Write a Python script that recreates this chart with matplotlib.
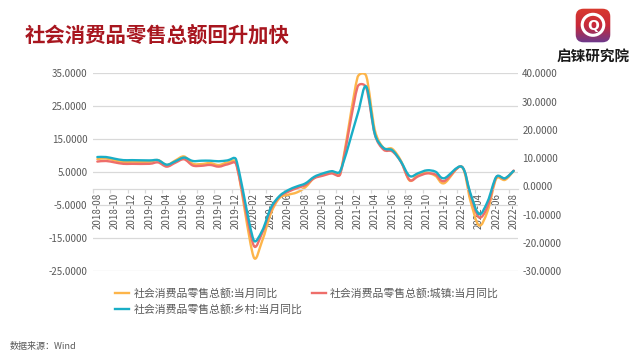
import numpy as np
import pandas as pd
import matplotlib
matplotlib.use('Agg')
import matplotlib.pyplot as plt
from matplotlib.path import Path
from matplotlib.patches import PathPatch, FancyBboxPatch, Circle
from matplotlib.lines import Line2D
from matplotlib.ticker import FormatStrFormatter
from matplotlib.colors import LinearSegmentedColormap

plt.rcParams['font.family'] = ['Noto Sans CJK SC', 'DejaVu Sans']

nan = np.nan
months = [p.strftime('%Y-%m') for p in pd.period_range('2018-08', '2022-08', freq='M')]

# 社会消费品零售总额:当月同比 (left axis)
total = [9.0, 9.2, 8.6, 8.1, 8.2,
         nan, 8.2, 8.7, 7.2, 8.6, 9.8, 7.6, 7.5, 7.8, 7.2, 8.0, 8.0,
         nan, -20.5, -15.8, -7.5, -2.8, -1.8, -1.1, 0.5, 3.3, 4.3, 5.0, 4.6,
         nan, 33.8, 34.2, 17.7, 12.4, 12.1, 8.5, 2.5, 4.4, 4.9, 3.9, 1.7,
         nan, 6.7, -3.5, -11.1, -6.7, 3.1, 2.7, 5.4]
# 城镇 (right axis)
urban = [8.8, 9.0, 8.5, 8.0, 8.0,
         nan, 8.0, 8.5, 7.0, 8.4, 9.6, 7.4, 7.3, 7.6, 7.0, 7.8, 7.9,
         nan, -20.7, -16.5, -8.2, -3.6, -1.9, -0.6, 0.5, 2.9, 3.8, 4.6, 4.3,
         nan, 35.2, 35.0, 18.3, 13.0, 12.4, 8.7, 2.3, 3.6, 4.6, 4.2, 1.9,
         nan, 7.0, -2.8, -10.9, -7.0, 3.3, 2.8, 5.6]
# 乡村 (right axis)
rural = [10.4, 10.4, 9.8, 9.3, 9.3,
         nan, 9.2, 9.3, 7.7, 8.9, 10.2, 9.0, 9.1, 9.1, 8.9, 9.2, 9.5,
         nan, -18.8, -15.7, -7.6, -3.4, -1.3, 0.0, 1.1, 3.4, 4.6, 5.4, 5.4,
         nan, 25.5, 35.3, 18.5, 13.6, 12.8, 8.8, 3.7, 4.7, 5.7, 5.2, 2.9,
         nan, 7.0, -2.3, -9.8, -5.3, 3.4, 2.9, 5.5]

series_names = ['社会消费品零售总额:当月同比',
                '社会消费品零售总额:城镇:当月同比',
                '社会消费品零售总额:乡村:当月同比']
left_ticks = [-25, -15, -5, 5, 15, 25, 35]
right_ticks = [-30, -20, -10, 0, 10, 20, 30, 40]

C_ORANGE = '#FDB54A'
C_RED = '#EE6E6A'
C_CYAN = '#19AEC6'
GRAY = '#595959'
GRID = '#D9D9D9'


def smooth_path(axis, xs, ys):
    """Excel-style smoothed line (Bezier through the data points), built in display space."""
    pts = np.array([(x, y) for x, y in zip(xs, ys) if not np.isnan(y)], dtype=float)
    disp = axis.transData.transform(pts)
    inv = axis.transData.inverted()
    n = len(disp)
    verts = [disp[0]]
    codes = [Path.MOVETO]
    for i in range(n - 1):
        p0 = disp[i - 1] if i > 0 else disp[i]
        p1 = disp[i]
        p2 = disp[i + 1]
        p3 = disp[i + 2] if i + 2 < n else disp[i + 1]
        d12 = np.hypot(*(p2 - p1))
        d02 = np.hypot(*(p2 - p0))
        d13 = np.hypot(*(p3 - p1))
        f0 = 1 / 6 if d02 == 0 else min(1 / 6, d12 / (2 * d02))
        f1 = 1 / 6 if d13 == 0 else min(1 / 6, d12 / (2 * d13))
        c1 = p1 + (p2 - p0) * f0
        c2 = p2 - (p3 - p1) * f1
        verts += [c1, c2, p2]
        codes += [Path.CURVE4] * 3
    verts = inv.transform(np.array(verts))
    return Path(verts, codes)


fig = plt.figure(figsize=(6.41, 3.59), dpi=100)
ax = fig.add_axes([93 / 641, 1 - 271.3 / 359, 425 / 641, 198 / 359])
ax2 = ax.twinx()

x = np.arange(len(months))
ax.set_xlim(-0.5, len(months) - 0.5)
ax2.set_xlim(-0.5, len(months) - 0.5)
ax.set_ylim(-25, 35)
ax2.set_ylim(-30, 40)

ax.set_yticks(left_ticks)
ax2.set_yticks(right_ticks)
ax.yaxis.set_major_formatter(FormatStrFormatter('%.4f'))
ax2.yaxis.set_major_formatter(FormatStrFormatter('%.4f'))
ax.yaxis.grid(True, color=GRID, lw=0.9)
ax.set_axisbelow(True)

for s in ['left', 'right', 'top']:
    ax.spines[s].set_visible(False)
for s in ['left', 'right', 'top', 'bottom']:
    ax2.spines[s].set_visible(False)
ax.spines['bottom'].set_position(('data', 0))
ax.spines['bottom'].set_color(GRID)
ax.spines['bottom'].set_linewidth(0.9)

ax.tick_params(axis='y', length=0, pad=4, labelsize=7, labelcolor=GRAY)
ax2.tick_params(axis='y', length=0, pad=3, labelsize=7, labelcolor=GRAY)

ax.set_xticks(x[::2])
ax.set_xticklabels(months[::2], rotation=90, fontsize=7, color=GRAY)
ax.set_xticks(np.arange(-0.5, len(months), 2), minor=True)
ax.tick_params(axis='x', which='major', length=0, pad=3)
ax.tick_params(axis='x', which='minor', length=3, color=GRID, width=0.9)

lw = 1.7
ax.add_patch(PathPatch(smooth_path(ax, x, total), fill=False, edgecolor=C_ORANGE, lw=lw,
                       capstyle='round', joinstyle='round'))
ax2.add_patch(PathPatch(smooth_path(ax2, x, urban), fill=False, edgecolor=C_RED, lw=lw,
                        capstyle='round', joinstyle='round'))
ax2.add_patch(PathPatch(smooth_path(ax2, x, rural), fill=False, edgecolor=C_CYAN, lw=lw,
                        capstyle='round', joinstyle='round'))

handles = [Line2D([], [], color=C_ORANGE, lw=lw),
           Line2D([], [], color=C_CYAN, lw=lw),
           Line2D([], [], color=C_RED, lw=lw)]
labels = [series_names[0], series_names[2], series_names[1]]
fig.legend(handles, labels, loc='upper left', bbox_to_anchor=(115 / 641, 1 - 288 / 359),
           ncol=2, frameon=False, fontsize=7.8, labelcolor=GRAY, handlelength=1.3,
           handletextpad=0.4, columnspacing=0.85, labelspacing=0.5, borderpad=0,
           borderaxespad=0)

# Title
fig.text(25 / 641, 1 - 35 / 359, '社会消费品零售总额回升加快', fontsize=14.7, fontweight='bold',
         color='#A8161F', va='center', ha='left')

# Source
fig.text(10 / 641, 1 - 347 / 359, '数据来源：Wind', fontsize=6.5, color=GRAY, va='center', ha='left')

# Logo
lax = fig.add_axes([575 / 641, 1 - 43 / 359, 36 / 641, 35 / 359])
lax.set_xlim(0, 1)
lax.set_ylim(0, 1)
lax.axis('off')
grad = np.linspace(0, 1, 64).reshape(-1, 1)
cmap = LinearSegmentedColormap.from_list('logo', ['#6A3A8E', '#C8283A', '#D93A2E'])
im = lax.imshow(grad, extent=(0, 1, 0, 1), origin='lower', cmap=cmap, aspect='auto')
box = FancyBboxPatch((0.02, 0.02), 0.96, 0.96, boxstyle='round,pad=0,rounding_size=0.22',
                     transform=lax.transAxes, facecolor='none', edgecolor='none')
lax.add_patch(box)
im.set_clip_path(box)
lax.add_patch(Circle((0.5, 0.52), 0.3, facecolor='none', edgecolor='white', lw=2.2))
lax.text(0.5, 0.5, 'Q', color='white', fontsize=10, fontweight='bold', ha='center', va='center',
         family='DejaVu Sans')
fig.text(593 / 641, 1 - 56 / 359, '启铼研究院', fontsize=10.5, fontweight='bold', color='#1A1A1A',
         ha='center', va='center')

fig.savefig('out.png', dpi=100)
